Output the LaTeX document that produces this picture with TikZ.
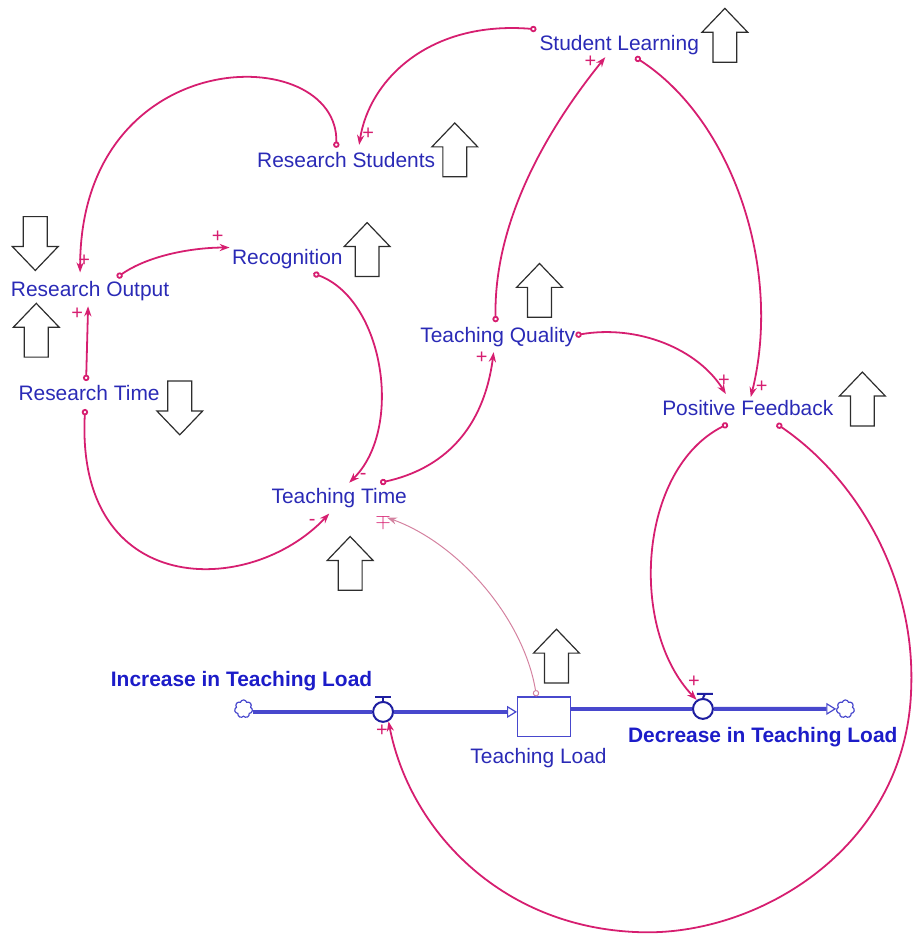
\documentclass[tikz,border=0pt]{standalone}
\usepackage{fontspec}
\setmainfont{Liberation Sans}
\usetikzlibrary{calc,arrows.meta,shapes.symbols}
\definecolor{varblue}{RGB}{42,42,182}
\definecolor{flowtext}{RGB}{28,28,200}
\definecolor{flowblue}{RGB}{72,72,205}
\definecolor{valveblue}{RGB}{30,30,160}
\definecolor{linkpink}{RGB}{214,30,112}
\definecolor{thinpink}{RGB}{212,130,160}
\definecolor{trendgrey}{RGB}{45,45,45}
\newcommand{\picw}{917}
\newcommand{\pich}{938}
\newcommand{\setupcanvas}{%
  \coordinate (NW) at (0,0);
  \coordinate (SE) at (\picw,\pich);
  \draw[white] (NW) rectangle (SE);
}
% big hollow arrows next to the variables
\newcommand{\trendup}[2]{%
  \draw[trend, shift={(#1,#2)}] (0,-27) -- (23,-3) -- (12,-3) -- (12,27)
    -- (-12,27) -- (-12,-3) -- (-23,-3) -- cycle;
}
\newcommand{\trenddown}[2]{%
  \draw[trend, shift={(#1,#2)}, yscale=-1] (0,-27) -- (23,-3) -- (12,-3) -- (12,27)
    -- (-12,27) -- (-12,-3) -- (-23,-3) -- cycle;
}

\begin{document}
\begin{tikzpicture}[x=0.5pt, y=-0.5pt,
    vname/.style={text=varblue, font=\fontsize{10.5}{12}\selectfont,
      inner sep=1pt, text height=8pt, text depth=2pt},
    flowname/.style={vname, text=flowtext,
      font=\bfseries\fontsize{10.5}{12}\selectfont},
    pol/.style={text=linkpink, font=\fontsize{10}{10}\selectfont, inner sep=0pt},
    link/.style={linkpink, line width=0.9pt,
      {Circle[open,length=3.2pt,width=3.2pt]}-{Stealth[length=5pt,width=3.6pt]}},
    thinlink/.style={link, thinpink, line width=0.5pt},
    trend/.style={draw=trendgrey, line width=0.6pt, fill=white},
    valve/.style={circle, draw=valveblue, fill=white, line width=1pt,
      minimum size=10pt, inner sep=0pt},
    stock/.style={rectangle, draw=flowblue, fill=white, line width=0.6pt,
      minimum width=26.5pt, minimum height=20pt, inner sep=0pt},
    cloudsym/.style={cloud, cloud puffs=7, draw=flowblue, line width=0.6pt,
      minimum width=9pt, minimum height=9pt, inner sep=0pt},
    flow/.style={flowblue, line width=2pt},
    flowtip/.style={-{Triangle[fill=white,length=5pt,width=6pt,line width=0.6pt]}}]
    \setupcanvas
    %
    \node[vname] (studlearn) at (621,44) {Student Learning};
    \node[vname] (resstud) at (347,162) {Research Students};
    \node[vname] (recog) at (288,259) {Recognition};
    \node[vname] (resout) at (90,291) {Research Output};
    \node[vname] (restime) at (89,396) {Research Time};
    \node[vname] (teachq) at (499,337) {Teaching Quality};
    \node[vname] (posfb) at (750,411) {Positive Feedback};
    \node[vname] (teacht) at (340,499) {Teaching Time};

    % stock and flows
    \node[stock] (tload) at (545.5,719) {};
    \node[vname] (tloadlbl) at (540,760) {Teaching Load};
    \node[cloudsym] (cloudin) at (244,711) {};
    \node[cloudsym] (cloudout) at (848,711) {};
    \node[valve] (valvein) at (384,714) {};
    \node[valve] (valveout) at (705,711) {};
    \node[flowname] (incrlbl) at (242,683) {Increase in Teaching Load};
    \node[flowname] (decrlbl) at (765,739) {Decrease in Teaching Load};

    \draw[flow] (cloudin.east |- valvein) -- (valvein.west);
    \draw[flow, flowtip] (valvein.east) -- ($(tload.west)+(0,-5)$);
    \draw[flow] ($(tload.east)+(0,-8)$) -- (valveout.west);
    \draw[flow, flowtip] (valveout.east) -- (cloudout.west);
    \draw[valveblue, line width=1pt] ($(valvein.north)+(-8,-4)$) -- ($(valvein.north)+(8,-4)$)
      ($(valvein.north)+(0,-4)$) -- (valvein.north);
    \draw[valveblue, line width=1pt] ($(valveout.north)+(-6,-4)$) -- ($(valveout.north)+(10,-4)$)
      ($(valveout.north)+(2,-4)$) -- (valveout.north);

    % causal links
    \draw[link] ($(resstud)+(-10,-14)$) .. controls (340,40) and (80,40) .. ($(resout)+(-10,-18)$);
    \draw[link] ($(studlearn)+(-83,-15)$) .. controls (430,20) and (370,80) .. ($(resstud)+(13,-17)$);
    \draw[link] ($(resout)+(27,-13)$) .. controls (150,255) and (195,248) .. ($(recog)+(-58,-11)$);
    \draw[link] ($(restime)+(-3,-14)$) -- ($(resout)+(-2,16)$);
    \draw[link] ($(restime)+(-4,14)$) .. controls (75,600) and (250,600) .. ($(teacht)+(-10,16)$);
    \draw[link] ($(recog)+(26,15)$) .. controls (385,300) and (405,430) .. ($(teacht)+(10,-15)$);
    \draw[link] ($(teacht)+(41,-15)$) .. controls (445,470) and (485,430) .. ($(teachq)+(-4,16)$);
    \draw[link] ($(teachq)+(-2,-14)$) .. controls (495,230) and (540,140) .. ($(studlearn)+(-14,13)$);
    \draw[link] ($(studlearn)+(16,13)$) .. controls (735,120) and (785,270) .. ($(posfb)+(3,-13)$);
    \draw[link] ($(teachq)+(78,-1)$) .. controls (640,325) and (700,350) .. ($(posfb)+(-22,-16)$);
    \draw[link] ($(posfb)+(-20,14)$) .. controls (640,470) and (630,630) .. (valveout.125);
    \coordinate (loopE) at (914,690);
    \coordinate (loopS) at (640,935);
    \draw[link] ($(posfb)+(29,14)$) .. controls (860,480) and (918,580) .. (loopE)
      .. controls (910,850) and (760,940) .. (loopS)
      .. controls (500,930) and (410,830) .. (valvein.-60);
    \draw[thinlink] ($(tload.north)+(-7.5,0)$) .. controls (525,620) and (460,545) .. ($(teacht)+(48,20)$);

    % polarities
    \node[pol] (pl1) at (84,261) {+};
    \node[pol] (pl2) at (369,134) {+};
    \node[pol] (pl3) at (218,237) {+};
    \node[pol] (pl4) at (77,314) {+};
    \node[pol] (pl5) at (313,524) {-};
    \node[pol] (pl6) at (364,478) {-};
    \node[pol] (pl7) at (483,359) {+};
    \node[pol] (pl8) at (592,62) {+};
    \node[pol] (pl9) at (764,388) {+};
    \node[pol] (pl10) at (726,382) {+};
    \node[pol] (pl11) at (696,684) {+};
    \node[pol] (pl12) at (383,733) {+};
    \node[pol] (pl13) at (384,523) {$\mp$};

    % trend arrows
    \trendup{727}{35}
    \trendup{456}{150}
    \trendup{368}{250}
    \trenddown{35}{244}
    \trendup{36}{331}
    \trenddown{180}{409}
    \trendup{541}{291}
    \trendup{865}{400}
    \trendup{351}{565}
    \trendup{558}{658}
  \end{tikzpicture}
\end{document}
